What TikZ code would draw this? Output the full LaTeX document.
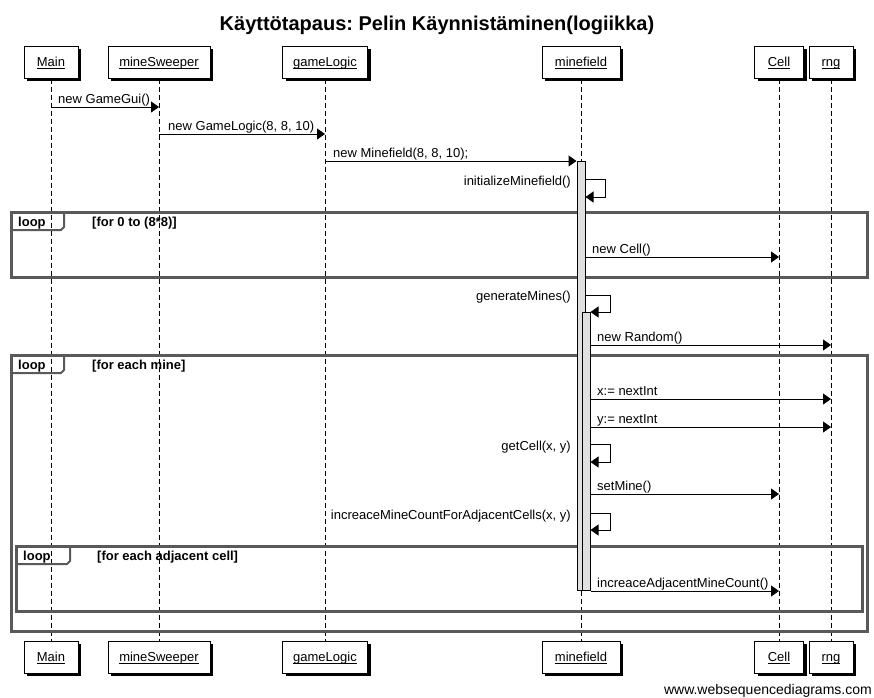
\documentclass[tikz,border=0pt]{standalone}
\usepackage{fontspec}
\setmainfont{Liberation Sans}
\usetikzlibrary{arrows.meta,shadows,calc}
\definecolor{framegray}{HTML}{595959}
\definecolor{actgray}{HTML}{E0E0E0}
\newcommand{\seqpartlabel}[1]{\underline{\smash{#1}}}
\frenchspacing
\begin{document}
\begin{tikzpicture}[x=1pt,y=-1pt,
  part/.style={draw=black, fill=white, line width=1pt, minimum height=32pt, inner sep=0pt,
    text height=9.5pt, text depth=0pt,
    font=\fontsize{13}{15}\selectfont,
    drop shadow={shadow xshift=3pt, shadow yshift=-3pt, fill=black, opacity=1}},
  life/.style={draw=black, line width=0.9pt, dash pattern=on 5pt off 3pt},
  msg/.style={draw=black, line width=1pt, -{Triangle[length=8pt,width=11pt]}},
  act/.style={draw=black, fill=actgray, line width=1pt, minimum width=8pt, inner sep=0pt, anchor=north},
  lbl/.style={font=\fontsize{13}{15}\selectfont, inner sep=0pt, anchor=base west},
  slbl/.style={font=\fontsize{13}{15}\selectfont, inner sep=0pt, anchor=base east},
  frm/.style={draw=framegray, line width=3pt},
  tab/.style={draw=framegray, line width=2pt},
  flbl/.style={font=\bfseries\fontsize{13}{15}\selectfont, inner sep=0pt, anchor=base west}
]
\useasboundingbox (0,0) rectangle (874,697);

% title
\node[font=\bfseries\fontsize{20}{24}\selectfont, inner sep=0pt, anchor=base] (title) at (437,30) {Käyttötapaus: Pelin Käynnistäminen(logiikka)};

% participants top
\node[part, minimum width=54pt] (Main) at (51,62) {\seqpartlabel{Main}};
\node[part, minimum width=102pt] (mineSweeper) at (159,62) {\seqpartlabel{mineSweeper}};
\node[part, minimum width=85pt] (gameLogic) at (325,62) {\seqpartlabel{gameLogic}};
\node[part, minimum width=78pt] (minefield) at (581,62) {\seqpartlabel{minefield}};
\node[part, minimum width=49pt] (Cell) at (779,62) {\seqpartlabel{Cell}};
\node[part, minimum width=44pt] (rng) at (831,62) {\seqpartlabel{rng}};

% participants bottom
\node[part, minimum width=54pt] (Mainb) at (51,657) {\seqpartlabel{Main}};
\node[part, minimum width=102pt] (mineSweeperb) at (159,657) {\seqpartlabel{mineSweeper}};
\node[part, minimum width=85pt] (gameLogicb) at (325,657) {\seqpartlabel{gameLogic}};
\node[part, minimum width=78pt] (minefieldb) at (581,657) {\seqpartlabel{minefield}};
\node[part, minimum width=49pt] (Cellb) at (779,657) {\seqpartlabel{Cell}};
\node[part, minimum width=44pt] (rngb) at (831,657) {\seqpartlabel{rng}};

% lifelines
\draw[life] (Main.south) -- (Mainb.north);
\draw[life] (mineSweeper.south) -- (mineSweeperb.north);
\draw[life] (gameLogic.south) -- (gameLogicb.north);
\draw[life] (minefield.south) -- (minefieldb.north);
\draw[life] (Cell.south) -- (Cellb.north);
\draw[life] (rng.south) -- (rngb.north);

% loop frames
\draw[frm] (11,212) rectangle (867,277);
\draw[tab] (11,230) -- (61,230) -- (64,227) -- (64,212);
\node[flbl] (loop1) at (18,226) {loop};
\node[flbl] (guard1) at (92,226) {[for 0 to (8*8)]};

\draw[frm] (11,355) rectangle (867,631);
\draw[tab] (11,373) -- (61,373) -- (64,370) -- (64,355);
\node[flbl] (loop2) at (18,369) {loop};
\node[flbl] (guard2) at (92,369) {[for each mine]};

\draw[frm] (16,546) rectangle (862,611);
\draw[tab] (16,564) -- (67,564) -- (70,561) -- (70,546);
\node[flbl] (loop3) at (23,560) {loop};
\node[flbl] (guard3) at (97,560) {[for each adjacent cell]};

% activation bars
\node[act, minimum height=429pt] (act1) at (581,161) {};
\node[act, minimum height=278pt] (act2) at (586,312) {};

% y levels
\coordinate (y1) at (0,107);
\coordinate (y2) at (0,134);
\coordinate (y3) at (0,161);
\coordinate (y4) at (0,257);
\coordinate (y5) at (0,345);
\coordinate (y6) at (0,399);
\coordinate (y7) at (0,427);
\coordinate (y8) at (0,494);
\coordinate (y9) at (0,591);

% messages
\draw[msg] (Main |- y1) -- (mineSweeper |- y1);
\node[lbl] (l1) at (58,103) {new GameGui()};
\draw[msg] (mineSweeper |- y2) -- (gameLogic |- y2);
\node[lbl] (l2) at (168,130) {new GameLogic(8, 8, 10)};
\draw[msg] (gameLogic |- y3) -- (act1.west |- y3);
\node[lbl] (l3) at (333,157) {new Minefield(8, 8, 10);};

% self: initializeMinefield
\coordinate (s1a) at (581,179);
\coordinate (s1b) at (581,197);
\draw[msg] (act1.east |- s1a) -- ++(20,0) |- (act1.east |- s1b);
\node[slbl] (l4) at (571,185) {initializeMinefield()};

\draw[msg] (act1.east |- y4) -- (Cell |- y4);
\node[lbl] (l5) at (592,253) {new Cell()};

% self: generateMines
\coordinate (s2a) at (581,295);
\coordinate (s2b) at (581,312);
\draw[msg] (act1.east |- s2a) -- ++(25,0) |- (act2.east |- s2b);
\node[slbl] (l6) at (571,300) {generateMines()};

\draw[msg] (act2.east |- y5) -- (rng |- y5);
\node[lbl] (l7) at (597,341) {new Random()};

\draw[msg] (act2.east |- y6) -- (rng |- y6);
\node[lbl] (l8) at (597,395) {x:= nextInt};
\draw[msg] (act2.east |- y7) -- (rng |- y7);
\node[lbl] (l9) at (597,423) {y:= nextInt};

% self: getCell
\coordinate (s3a) at (581,444);
\coordinate (s3b) at (581,462);
\draw[msg] (act2.east |- s3a) -- ++(20,0) |- (act2.east |- s3b);
\node[slbl] (l10) at (571,450) {getCell(x, y)};

\draw[msg] (act2.east |- y8) -- (Cell |- y8);
\node[lbl] (l11) at (597,490) {setMine()};

% self: increaceMineCountForAdjacentCells
\coordinate (s4a) at (581,513);
\coordinate (s4b) at (581,530);
\draw[msg] (act2.east |- s4a) -- ++(20,0) |- (act2.east |- s4b);
\node[slbl] (l12) at (571,519) {increaceMineCountForAdjacentCells(x, y)};

\draw[msg] (act2.east |- y9) -- (Cell |- y9);
\node[lbl] (l13) at (597,587) {increaceAdjacentMineCount()};

% footer
\node[font=\fontsize{14}{16}\selectfont, inner sep=0pt, anchor=base east] (footer) at (872,694) {www.websequencediagrams.com};
\end{tikzpicture}
\end{document}
